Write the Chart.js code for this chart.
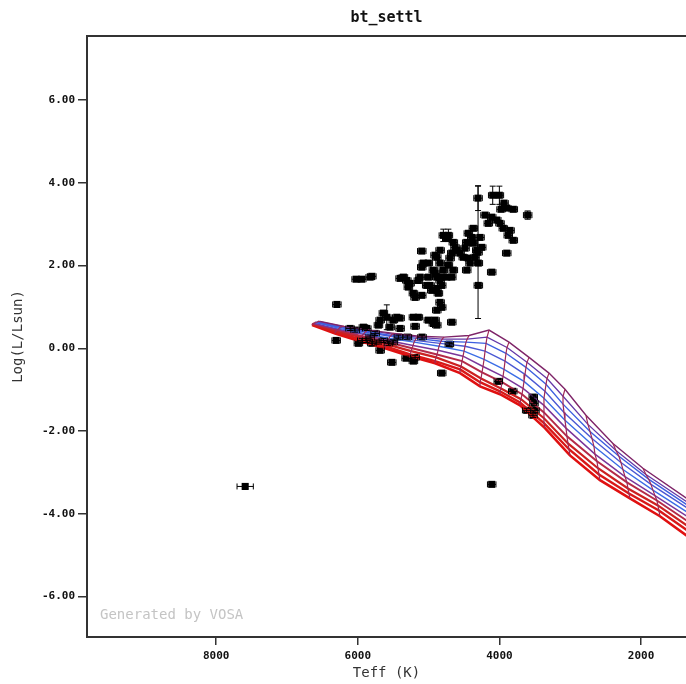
<!DOCTYPE html>
<html>
<head>
<meta charset="utf-8">
<title>bt_settl</title>
<script src="https://cdn.jsdelivr.net/npm/chart.js@4.4.1/dist/chart.umd.min.js"></script>
<style>
  html, body { margin: 0; padding: 0; background: #fff; overflow: hidden; }
  canvas { display: block; }
</style>
</head>
<body>
<canvas id="hrChart" width="686" height="684"></canvas>
<script>
'use strict';

/* ── Axis ranges / ticks ─────────────────────────────── */

var X_MIN = 1365, X_MAX = 9825;
var Y_MIN = -6.98, Y_MAX = 7.55;
var xTickVals = [8000, 6000, 4000, 2000];
var yTickVals = [-6, -4, -2, 0, 2, 4, 6];

/* ── Observed objects (Teff in K, log L/Lsun) ────────── */

var starTeff = [
  4302,4302,4095,4001,3935,3897,3977,3804,3601,4203,
  4109,4157,4038,3992,3945,3850,3804,3875,3897,4109,
  4368,4391,4368,4320,4345,4274,4250,4298,4298,4439,
  4462,4486,4415,4462,4439,4510,4556,4603,4792,4721,
  4744,4651,4627,4673,4697,4721,4651,4673,4838,4885,
  4838,4792,4744,4815,5097,4909,4933,4909,4885,4838,
  4815,4885,4862,4838,4815,4885,4909,5004,4980,4956,
  5027,5097,5191,5215,5145,5121,5097,5074,5004,5403,
  5356,5308,5286,5262,6024,5944,5826,5802,6296,5145,
  5191,5215,5004,4933,4885,4673,
  6306,6109,6038,5921,5873,5826,5756,5709,5685,5639,
  5591,5544,5498,5450,5403,5403,5427,5498,5568,5639,
  5732,5802,5873,5944,5992,5685,5300,5093,4707,5520,
  5318,5215,5191,4815,4016,3812,3522,3512,3498,3526,
  3615,4109,7591
];
var starLogL = [
  3.63,2.32,3.70,3.70,3.51,3.39,3.36,3.36,3.22,3.22,
  3.17,3.02,3.10,3.02,2.90,2.85,2.61,2.73,2.30,1.84,
  2.90,2.68,2.54,2.37,2.20,2.68,2.44,2.06,1.52,2.78,
  2.56,2.42,2.06,1.89,2.18,2.20,2.30,2.37,2.73,2.73,
  2.66,2.56,2.44,2.30,2.18,2.01,1.89,1.72,2.37,2.20,
  2.06,1.89,1.72,1.72,2.35,2.25,1.89,1.81,1.72,1.64,
  1.52,1.45,1.33,1.11,0.99,0.92,0.68,1.72,1.52,1.40,
  1.52,1.28,1.23,1.33,1.64,1.72,1.96,2.06,2.06,1.69,
  1.72,1.64,1.48,1.57,1.67,1.67,1.72,1.74,1.06,0.75,
  0.53,0.75,0.68,0.60,0.56,0.63,
  0.19,0.48,0.44,0.51,0.48,0.27,0.36,0.56,0.68,0.85,
  0.75,0.51,0.68,0.75,0.73,0.48,0.27,0.15,0.12,0.19,
  0.15,0.12,0.19,0.19,0.12,-0.05,0.27,0.27,0.10,-0.34,
  -0.24,-0.31,-0.22,-0.60,-0.80,-1.04,-1.18,-1.33,-1.50,-1.62,
  -1.50,-3.29,-3.34
];

/* typical error bar, plus the few points whose bars stand out */
var ERR_TEFF = 60, ERR_LOGL = 0.05;
var bigErrIdx   = [0,   1,   2,   3,   8,   38,   39,   106, 138];
var bigErrTeff  = [60,  60,  60,  60,  60,  60,   60,   60,  115];
var bigErrLogL  = [0.3, 1.6, 0.22,0.22,0.1, 0.15, 0.15, 0.3, 0.05];

/* ── Model isochrones, youngest first (same mass grid) ─ */

var isoTeff = [
  [6532,6193,5841,5488,5135,4782,4429,4147,3865,3582,3300,3074,2778,2397,1973,1169],
  [6560,6222,5869,5516,5163,4810,4457,4175,3893,3611,3328,3102,2750,2354,1931,1169],
  [6575,6236,5883,5530,5177,4824,4472,4189,3907,3625,3342,3102,2721,2312,1889,1169],
  [6589,6250,5897,5544,5191,4838,4486,4203,3921,3639,3357,3088,2693,2284,1860,1169],
  [6603,6264,5911,5558,5205,4853,4500,4217,3935,3653,3371,3074,2665,2256,1832,1169],
  [6617,6278,5925,5572,5220,4867,4514,4232,3949,3667,3371,3060,2651,2227,1804,1169],
  [6631,6292,5939,5587,5234,4881,4528,4246,3963,3681,3371,3046,2623,2199,1776,1169],
  [6645,6306,5953,5601,5248,4895,4542,4260,3978,3695,3371,3032,2608,2185,1762,1169],
  [6645,6320,5968,5615,5262,4909,4556,4274,3992,3709,3371,3018,2594,2171,1748,1169],
  [6645,6320,5968,5615,5262,4909,4556,4274,3992,3709,3357,3004,2580,2157,1733,1169]
];
var isoLogL = [
  [0.65,0.53,0.44,0.36,0.29,0.27,0.31,0.44,0.15,-0.22,-0.60,-0.99,-1.62,-2.30,-2.90,-3.85],
  [0.65,0.53,0.44,0.34,0.27,0.22,0.22,0.27,0.02,-0.34,-0.73,-1.16,-1.84,-2.47,-3.05,-3.92],
  [0.63,0.51,0.41,0.31,0.24,0.17,0.15,0.12,-0.12,-0.46,-0.87,-1.35,-2.01,-2.61,-3.17,-3.99],
  [0.63,0.51,0.39,0.29,0.19,0.12,0.05,-0.07,-0.31,-0.63,-1.04,-1.55,-2.18,-2.76,-3.29,-4.06],
  [0.63,0.48,0.36,0.24,0.15,0.05,-0.07,-0.27,-0.51,-0.80,-1.21,-1.74,-2.37,-2.93,-3.43,-4.16],
  [0.60,0.46,0.34,0.19,0.07,-0.05,-0.19,-0.44,-0.68,-0.97,-1.38,-1.93,-2.56,-3.10,-3.56,-4.26],
  [0.60,0.44,0.29,0.15,0.00,-0.15,-0.31,-0.58,-0.82,-1.11,-1.55,-2.13,-2.73,-3.24,-3.68,-4.38],
  [0.58,0.41,0.27,0.10,-0.07,-0.22,-0.44,-0.73,-0.97,-1.23,-1.69,-2.30,-2.90,-3.39,-3.80,-4.50],
  [0.58,0.39,0.22,0.05,-0.15,-0.31,-0.51,-0.82,-1.04,-1.31,-1.81,-2.44,-3.05,-3.51,-3.92,-4.62],
  [0.56,0.36,0.17,0.00,-0.19,-0.36,-0.60,-0.92,-1.11,-1.38,-1.93,-2.59,-3.19,-3.63,-4.06,-4.76]
];
var isoColors = ['#7e2468','#6438a8','#3d5fe0','#4a58d4','#3a6de6','#7a369a','#b42a48','#cc2020','#d81818','#e01010'];
var isoWidths = [1.4, 1.3, 1.4, 1.4, 1.4, 1.5, 2, 2.2, 2.4, 2.6];
var trackColor = '#a02a58';

/* ── Build datasets ──────────────────────────────────── */

function pts(tArr, lArr) {
  return tArr.map(function (t, i) { return { x: t, y: lArr[i] }; });
}

var datasets = [];

/* mass tracks: join point j of every isochrone (gives the mesh) */
for (var j = 0; j < isoTeff[0].length; j++) {
  var tr = isoTeff.map(function (row) { return row[j]; });
  var lr = isoLogL.map(function (row) { return row[j]; });
  datasets.push({
    data: pts(tr, lr), showLine: true, pointRadius: 0,
    borderColor: trackColor, borderWidth: 1.2
  });
}

isoTeff.forEach(function (row, k) {
  datasets.push({
    data: pts(row, isoLogL[k]), showLine: true, pointRadius: 0,
    borderColor: isoColors[k], borderWidth: isoWidths[k]
  });
});

datasets.push({
  data: pts(starTeff, starLogL), showLine: false,
  pointStyle: 'rect', pointRadius: 5, borderWidth: 0,
  backgroundColor: '#000', borderColor: '#000'
});

/* ── Error bars, frame and watermark ─────────────────── */

var vosaPlugin = {
  id: 'vosa',
  beforeDatasetsDraw: function (chart) {
    var ctx = chart.ctx, a = chart.chartArea;
    ctx.save();
    ctx.fillStyle = '#c4c4c4';
    ctx.font = '14px "DejaVu Sans Mono"';
    ctx.textBaseline = 'middle';
    ctx.fillText('Generated by VOSA', a.left + 13, 615);
    ctx.restore();
  },
  afterDatasetsDraw: function (chart) {
    var ctx = chart.ctx, xs = chart.scales.x, ys = chart.scales.y;
    ctx.save();
    ctx.strokeStyle = '#000';
    ctx.lineWidth = 1;
    starTeff.forEach(function (t, i) {
      var bi = bigErrIdx.indexOf(i);
      var et = bi >= 0 ? bigErrTeff[bi] : ERR_TEFF;
      var el = bi >= 0 ? bigErrLogL[bi] : ERR_LOGL;
      var px = xs.getPixelForValue(t), py = ys.getPixelForValue(starLogL[i]);
      var x0 = xs.getPixelForValue(t - et), x1 = xs.getPixelForValue(t + et);
      var y0 = ys.getPixelForValue(starLogL[i] - el), y1 = ys.getPixelForValue(starLogL[i] + el);
      ctx.beginPath();
      ctx.moveTo(x0, py); ctx.lineTo(x1, py);
      ctx.moveTo(x0, py - 3); ctx.lineTo(x0, py + 3);
      ctx.moveTo(x1, py - 3); ctx.lineTo(x1, py + 3);
      ctx.moveTo(px, y0); ctx.lineTo(px, y1);
      ctx.moveTo(px - 3, y0); ctx.lineTo(px + 3, y0);
      ctx.moveTo(px - 3, y1); ctx.lineTo(px + 3, y1);
      ctx.stroke();
    });
    ctx.restore();
  },
  afterDraw: function (chart) {
    var ctx = chart.ctx, a = chart.chartArea;
    ctx.save();
    ctx.strokeStyle = '#333';
    ctx.lineWidth = 2;
    ctx.beginPath();
    ctx.moveTo(a.left - 1, a.top);
    ctx.lineTo(a.right, a.top);
    ctx.stroke();
    ctx.restore();
  }
};

/* ── Chart ───────────────────────────────────────────── */

var tickFont = { family: 'DejaVu Sans Mono', size: 11, weight: 'bold' };
var titleFont = { family: 'DejaVu Sans Mono', size: 14 };

function fixedTicks(vals) {
  return function (scale) {
    scale.ticks = vals.map(function (v) { return { value: v }; });
  };
}

new Chart(document.getElementById('hrChart'), {
  type: 'scatter',
  data: { datasets: datasets },
  options: {
    responsive: false,
    animation: false,
    devicePixelRatio: 1,
    layout: { padding: 0, autoPadding: false },
    plugins: {
      legend: { display: false },
      tooltip: { enabled: false },
      title: {
        display: true, text: 'bt_settl', fullSize: false, color: '#111',
        font: { family: 'DejaVu Sans Mono', size: 15, weight: 'bold' },
        padding: { top: 9, bottom: 9 }
      }
    },
    scales: {
      x: {
        type: 'linear', reverse: true, min: X_MIN, max: X_MAX,
        afterBuildTicks: fixedTicks(xTickVals),
        afterFit: function (s) { s.height = 47; },
        border: { color: '#333', width: 2 },
        grid: { drawOnChartArea: false, drawTicks: true, tickLength: 8, color: '#333', lineWidth: 1.5 },
        ticks: {
          maxRotation: 0, autoSkip: false,
          color: '#111', font: tickFont, padding: 5,
          callback: function (v) { return String(v); }
        },
        title: { display: true, text: 'Teff (K)', color: '#333', font: titleFont, padding: { top: 0, bottom: 2 } }
      },
      y: {
        type: 'linear', min: Y_MIN, max: Y_MAX,
        afterBuildTicks: fixedTicks(yTickVals),
        afterFit: function (s) { s.width = 87; },
        border: { color: '#333', width: 2 },
        grid: { drawOnChartArea: false, drawTicks: true, tickLength: 9, color: '#333', lineWidth: 1.5 },
        ticks: {
          autoSkip: false,
          color: '#111', font: tickFont, padding: 3,
          callback: function (v) { return v.toFixed(2); }
        },
        title: { display: true, text: 'Log(L/Lsun)', color: '#333', font: titleFont, padding: { top: 10, bottom: 0 } }
      }
    }
  },
  plugins: [vosaPlugin]
});
</script>
</body>
</html>
